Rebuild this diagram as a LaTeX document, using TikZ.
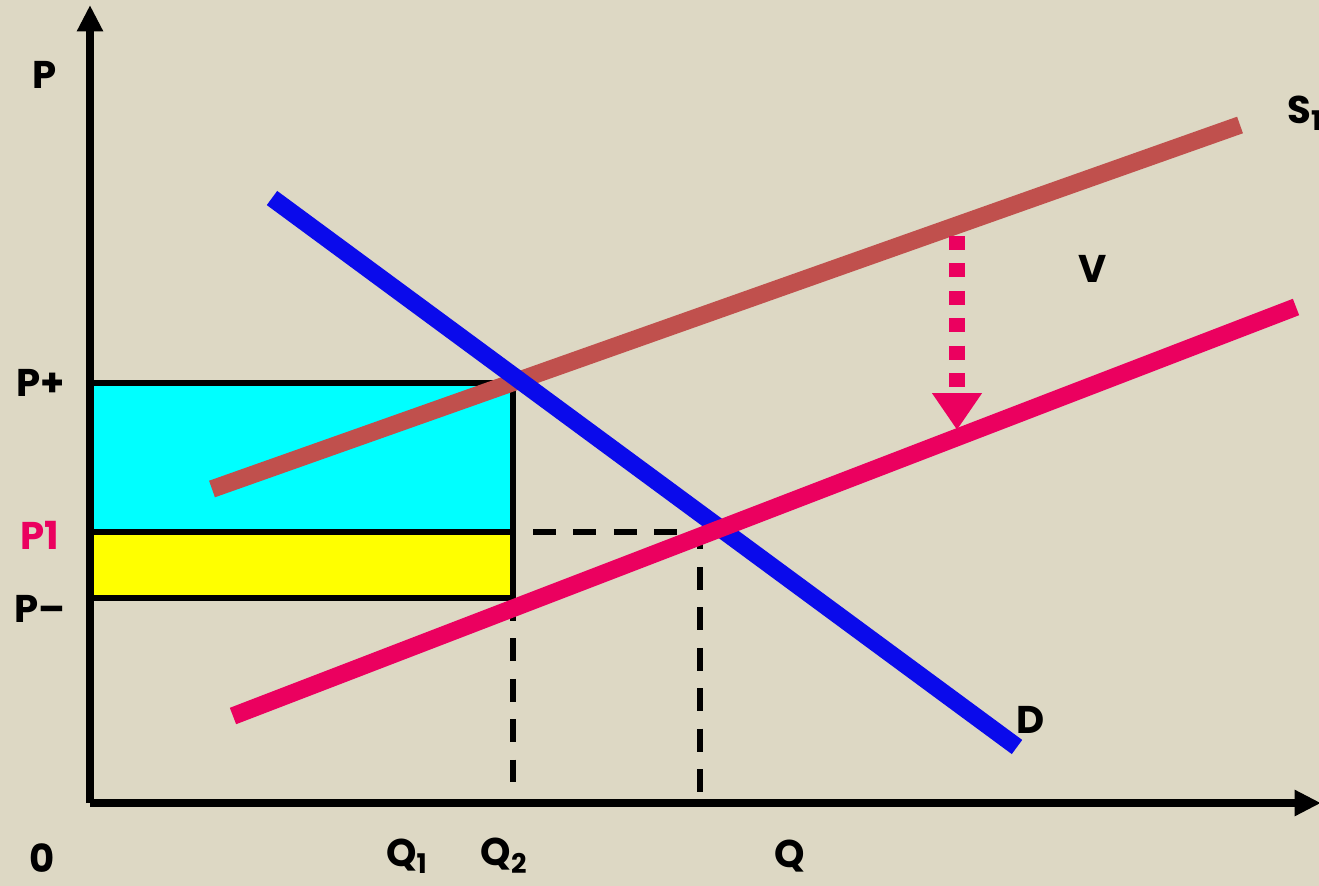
\documentclass[tikz,border=0pt]{standalone}
\usepackage{fontspec}
\setmainfont{Poppins}
\usepackage{tikz}
\usetikzlibrary{arrows.meta, positioning, calc}
\definecolor{bgcolor}{RGB}{221,216,196}
\definecolor{supplyone}{RGB}{192,80,77}
\definecolor{supplytwo}{RGB}{235,0,95}
\definecolor{demandcolor}{RGB}{10,10,235}
\definecolor{gaincolor}{RGB}{0,255,255}
\definecolor{losscolor}{RGB}{255,255,0}

\begin{document}
\begin{tikzpicture}[
    x=0.02cm, y=-0.02cm,
    axis/.style={line width=4pt, -{Triangle[width=14pt,length=15pt]}},
    curve/.style={line width=10pt},
    edge/.style={line width=3.6pt},
    guide/.style={line width=3.8pt, dash pattern=on 13pt off 10pt},
    lbl/.style={font=\fontsize{22}{26}\selectfont\bfseries, inner sep=0pt},
    supplyshift/.style={line width=9pt, supplytwo, dash pattern=on 8pt off 7.6pt,
        -{Triangle[width=27pt,length=21pt]}}
]
    % Background
    \fill[bgcolor] (0,0) rectangle (1319,886);
    \useasboundingbox (0,0) rectangle (1319,886);

    % Points
    \coordinate (origin) at (90,803);
    \coordinate (ytop) at (90,5);
    \coordinate (xend) at (1321,803);
    \coordinate (pplus) at (90,383);
    \coordinate (pone) at (90,532);
    \coordinate (pminus) at (90,598);
    \coordinate (qtwoplus) at (513,383);
    \coordinate (qtwoone) at (513,532);
    \coordinate (qtwominus) at (513,598);
    \coordinate (qtwo) at (513,803);
    \coordinate (eqone) at (700,532);
    \coordinate (eq) at (700,803);

    % Areas
    \fill[gaincolor] (pplus) rectangle (qtwoone);
    \fill[losscolor] (pone) rectangle (qtwominus);
    \draw[edge] (pplus) -- (qtwoplus) -- (qtwominus) -- (pminus);
    \draw[edge] (pone) -- (qtwoone);

    % Dashed guides
    \draw[guide] (qtwominus) -- (qtwo);
    \draw[guide] ($(qtwoone)+(20,0)$) -- (eqone) -- (eq);

    % Axes
    \draw[axis] (origin) -- (ytop);
    \draw[axis] (origin) -- (xend);

    % Curves
    \coordinate (dstart) at (272,198);
    \coordinate (dend) at (1017,747);
    \coordinate (sonestart) at (212,489);
    \coordinate (soneend) at (1240,125);
    \coordinate (stwostart) at (233,716);
    \coordinate (stwoend) at (1296,307);
    \draw[curve, supplyone] (sonestart) -- (soneend);
    \draw[curve, demandcolor] (dstart) -- (dend);
    \draw[curve, supplytwo] (stwostart) -- (stwoend);

    % Shift of supply
    \coordinate (shifttop) at (957,236);
    \coordinate (shiftbot) at (957,430);
    \draw[supplyshift] (shifttop) -- (shiftbot);

    % Labels
    \node[lbl] (plabel) at (45,75) {P};
    \node[lbl] (pplabel) at (41,383) {P+};
    \node[lbl, text=supplytwo] (p1label) at (40,535) {P1};
    \node[lbl] (pmlabel) at (40,609) {P–};
    \node[lbl] (zero) at (42,858) {0};
    \node[lbl] (q1label) at (407,856) {Q\textsubscript{1}};
    \node[lbl] (q2label) at (504,856) {Q\textsubscript{2}};
    \node[lbl] (qlabel) at (790,856) {Q};
    \node[lbl] (dlabel) at (1031,720) {D};
    \node[lbl] (vlabel) at (1093,269) {V};
    \node[lbl, anchor=west] (s1label) at (1287,113) {S\textsubscript{1}};

\end{tikzpicture}
\end{document}
